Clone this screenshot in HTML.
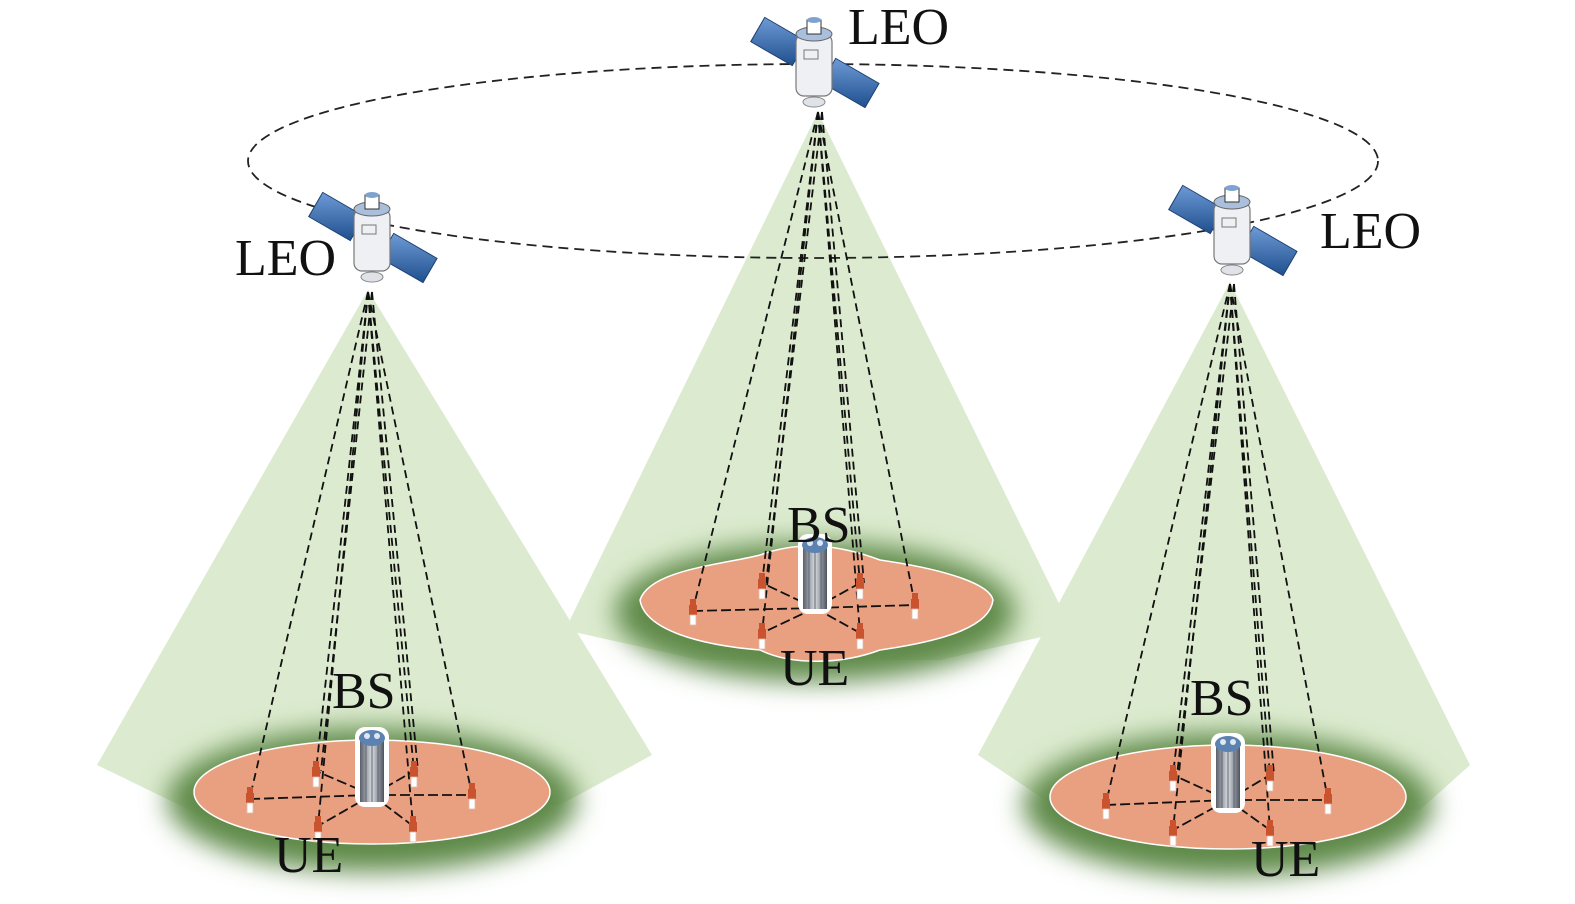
<!DOCTYPE html>
<html><head><meta charset="utf-8"><style>
html,body{margin:0;padding:0;background:#fff;}
svg{display:block;}
text{font-family:"Liberation Serif","Times New Roman",serif;fill:#111;}
</style></head><body>
<svg width="1575" height="904" viewBox="0 0 1575 904" xmlns="http://www.w3.org/2000/svg">
<defs>
<filter id="bl" x="-30%" y="-50%" width="160%" height="200%"><feGaussianBlur stdDeviation="13"/></filter>
<linearGradient id="pan" x1="0" y1="0" x2="1" y2="1"><stop offset="0" stop-color="#6e9bd6"/><stop offset="1" stop-color="#1f4f8e"/></linearGradient>
<linearGradient id="twr" x1="0" x2="1"><stop offset="0" stop-color="#5a5f6a"/><stop offset="0.5" stop-color="#d8dce2"/><stop offset="1" stop-color="#4d525c"/></linearGradient>
<g id="sat">
 <g transform="rotate(30)">
  <rect x="-65" y="-14" width="48" height="28" fill="url(#pan)" stroke="#1d3f70" stroke-width="1"/>
  <rect x="17" y="-14" width="50" height="28" fill="url(#pan)" stroke="#1d3f70" stroke-width="1"/>
 </g>
 <rect x="-18" y="-28" width="36" height="62" rx="8" fill="#eef0f4" stroke="#777" stroke-width="1.2"/>
 <ellipse cx="0" cy="-28" rx="18" ry="7" fill="#a9bfdc" stroke="#666"/>
 <rect x="-7" y="-42" width="14" height="14" fill="#fff" stroke="#333"/>
 <ellipse cx="0" cy="-42" rx="7" ry="3" fill="#7fa3d0"/>
 <rect x="-10" y="-12" width="14" height="9" fill="none" stroke="#777"/>
 <ellipse cx="0" cy="40" rx="11" ry="5" fill="#dfe3e8" stroke="#888"/>
</g>
<g id="ue"><rect x="-3" y="-12" width="6" height="6" fill="#c9532f"/><rect x="-4" y="-6" width="8" height="10" fill="#c9532f"/><rect x="-3" y="4" width="6" height="10" fill="#fff" stroke="#e0b9a8" stroke-width="0.8"/></g>
<g id="bs">
 <rect x="-17" y="-38" width="34" height="80" rx="10" fill="#fff"/>
 <rect x="-12" y="-25" width="24" height="62" fill="url(#twr)"/>
 <g stroke="#5e6470" stroke-width="1"><line x1="-6" y1="-25" x2="-6" y2="37"/><line x1="0" y1="-25" x2="0" y2="37"/><line x1="6" y1="-25" x2="6" y2="37"/></g>
 <ellipse cx="0" cy="-27" rx="13" ry="8" fill="#5b82b0"/>
 <circle cx="-5" cy="-29" r="3" fill="#dfe8f2"/><circle cx="5" cy="-29" r="3" fill="#dfe8f2"/>
</g>
</defs>

<path d="M368,290 L97,765 L200,815 L560,805 L652,755 Z" fill="#dcebcf"/>
<path d="M818,112 L565,630 L700,660 L940,660 L1072,630 Z" fill="#dcebcf"/>
<path d="M1230,282 L978,755 L1060,810 L1420,810 L1470,765 Z" fill="#dcebcf"/>

<ellipse cx="813" cy="161" rx="565" ry="97" fill="none" stroke="#222" stroke-width="1.8" stroke-dasharray="10,6"/>

<ellipse cx="372" cy="800" rx="205" ry="72" fill="#5f8a48" filter="url(#bl)"/>
<ellipse cx="815" cy="612" rx="200" ry="70" fill="#5f8a48" filter="url(#bl)"/>
<ellipse cx="1228" cy="805" rx="205" ry="72" fill="#5f8a48" filter="url(#bl)"/>

<ellipse cx="372" cy="792" rx="178" ry="52" fill="#e8a081" stroke="#fff" stroke-width="1.5"/>
<path d="M640,600 C650,570 720,565 760,555 C800,540 840,545 880,560 C950,570 990,585 993,600 C990,625 950,640 880,650 C840,665 790,665 760,650 C700,645 645,630 640,600 Z" fill="#e8a081" stroke="#fff" stroke-width="1.5"/>
<ellipse cx="1228" cy="797" rx="178" ry="52" fill="#e8a081" stroke="#fff" stroke-width="1.5"/>

<g stroke="#111" stroke-width="1.8" stroke-dasharray="8,5" fill="none">
 <line x1="368" y1="292" x2="250" y2="797"/><line x1="368" y1="292" x2="316" y2="771"/><line x1="372" y1="292" x2="321" y2="771"/>
 <line x1="368" y1="292" x2="318" y2="826"/><line x1="368" y1="292" x2="414" y2="771"/><line x1="372" y1="292" x2="418" y2="771"/>
 <line x1="368" y1="292" x2="413" y2="826"/><line x1="368" y1="292" x2="472" y2="795"/>
 <line x1="818" y1="112" x2="693" y2="609"/><line x1="818" y1="112" x2="762" y2="583"/><line x1="822" y1="112" x2="766" y2="583"/>
 <line x1="818" y1="112" x2="762" y2="633"/><line x1="818" y1="112" x2="860" y2="583"/><line x1="822" y1="112" x2="864" y2="583"/>
 <line x1="818" y1="112" x2="860" y2="633"/><line x1="818" y1="112" x2="915" y2="605"/>
 <line x1="1230" y1="284" x2="1106" y2="803"/><line x1="1230" y1="284" x2="1173" y2="775"/><line x1="1234" y1="284" x2="1177" y2="775"/>
 <line x1="1230" y1="284" x2="1173" y2="830"/><line x1="1230" y1="284" x2="1270" y2="775"/><line x1="1234" y1="284" x2="1274" y2="775"/>
 <line x1="1230" y1="284" x2="1270" y2="830"/><line x1="1230" y1="284" x2="1328" y2="800"/>
</g>
<g stroke="#111" stroke-width="1.8" stroke-dasharray="10,4" fill="none">
 <path d="M372,795 L250,799 M372,795 L316,771 M372,795 L414,771 M372,795 L472,795 M372,795 L318,826 M372,795 L413,826"/>
 <path d="M815,608 L693,611 M815,608 L762,583 M815,608 L860,583 M815,608 L915,605 M815,608 L762,633 M815,608 L860,633"/>
 <path d="M1228,800 L1106,805 M1228,800 L1173,775 M1228,800 L1270,775 M1228,800 L1328,800 M1228,800 L1173,830 M1228,800 L1270,830"/>
</g>

<use href="#ue" x="250" y="799"/><use href="#ue" x="316" y="773"/><use href="#ue" x="414" y="773"/><use href="#ue" x="472" y="795"/><use href="#ue" x="318" y="828"/><use href="#ue" x="413" y="828"/>
<use href="#ue" x="693" y="611"/><use href="#ue" x="762" y="585"/><use href="#ue" x="860" y="585"/><use href="#ue" x="915" y="605"/><use href="#ue" x="762" y="635"/><use href="#ue" x="860" y="635"/>
<use href="#ue" x="1106" y="805"/><use href="#ue" x="1173" y="777"/><use href="#ue" x="1270" y="777"/><use href="#ue" x="1328" y="800"/><use href="#ue" x="1173" y="832"/><use href="#ue" x="1270" y="832"/>

<use href="#bs" x="372" y="765"/>
<use href="#bs" x="815" y="572"/>
<use href="#bs" x="1228" y="771"/>

<use href="#sat" x="372" y="237"/>
<use href="#sat" x="814" y="62"/>
<use href="#sat" x="1232" y="230"/>

<text x="235" y="275" font-size="52">LEO</text>
<text x="848" y="44" font-size="52">LEO</text>
<text x="1320" y="248" font-size="52">LEO</text>
<text x="332" y="708" font-size="52">BS</text>
<text x="787" y="542" font-size="52">BS</text>
<text x="1190" y="715" font-size="52">BS</text>
<text x="274" y="872" font-size="52">UE</text>
<text x="780" y="685" font-size="52">UE</text>
<text x="1251" y="876" font-size="52">UE</text>
</svg>
</body></html>
